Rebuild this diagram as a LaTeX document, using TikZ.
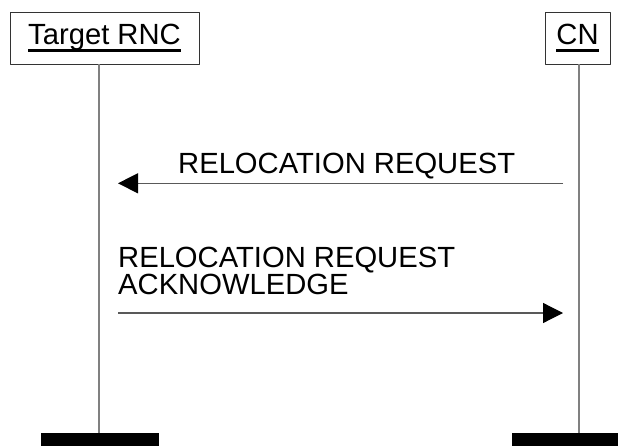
\documentclass[tikz,border=0pt]{standalone}
\usepackage{fontspec}
\setmainfont{Liberation Sans}
\usetikzlibrary{arrows.meta,positioning}
\newcommand\ulabel[1]{\setbox0\hbox{#1}\rlap{\rule[-7pt]{\wd0}{3pt}}\box0}
\begin{document}
\begin{tikzpicture}[x=1pt,y=-1pt,>={Triangle[length=20pt,width=20pt,color=black]}, font=\fontsize{29.2pt}{27pt}\selectfont, line join=round]
	\tikzset{entity/.style={draw=black!80, line width=0.8pt, minimum height=52pt, inner sep=0pt, text height=21pt, text depth=7pt},
		life/.style={draw=black!50, line width=1.5pt},
		msg/.style={draw=black!65, line width=1.2pt, ->},
		msglabel/.style={inner sep=0pt, align=left}}
	\def\yend{433}
	\useasboundingbox (0,0) rectangle (618,446);
	\node[entity, minimum width=189pt] (rnc) at (104.5,38) {\ulabel{Target RNC}};
	\node[entity, minimum width=65pt] (cn) at (577.5,38) {\ulabel{CN}};
	\coordinate (rncend) at (99,\yend);
	\coordinate (cnend) at (579,\yend);
	\draw[life] (rncend |- rnc.south)--(rncend);
	\draw[life] (cnend |- cn.south)--(cnend);
	\fill (41,\yend) rectangle (159,446);
	\fill (512,\yend) rectangle (618,446);
	% messages
	\coordinate (req-a) at (563,183.3);
	\coordinate (req-b) at (118,183.3);
	\coordinate (ack-a) at (118,313);
	\coordinate (ack-b) at (563,313);
	\draw[msg] (req-a)--(req-b);
	\draw[msg] (ack-a)--(ack-b);
	\node[msglabel, anchor=base west] (reqlabel) at (178,173.3) {RELOCATION REQUEST};
	\node[msglabel, anchor=south west] (acklabel) at (118,295) {RELOCATION REQUEST\\ACKNOWLEDGE};
\end{tikzpicture}
\end{document}
